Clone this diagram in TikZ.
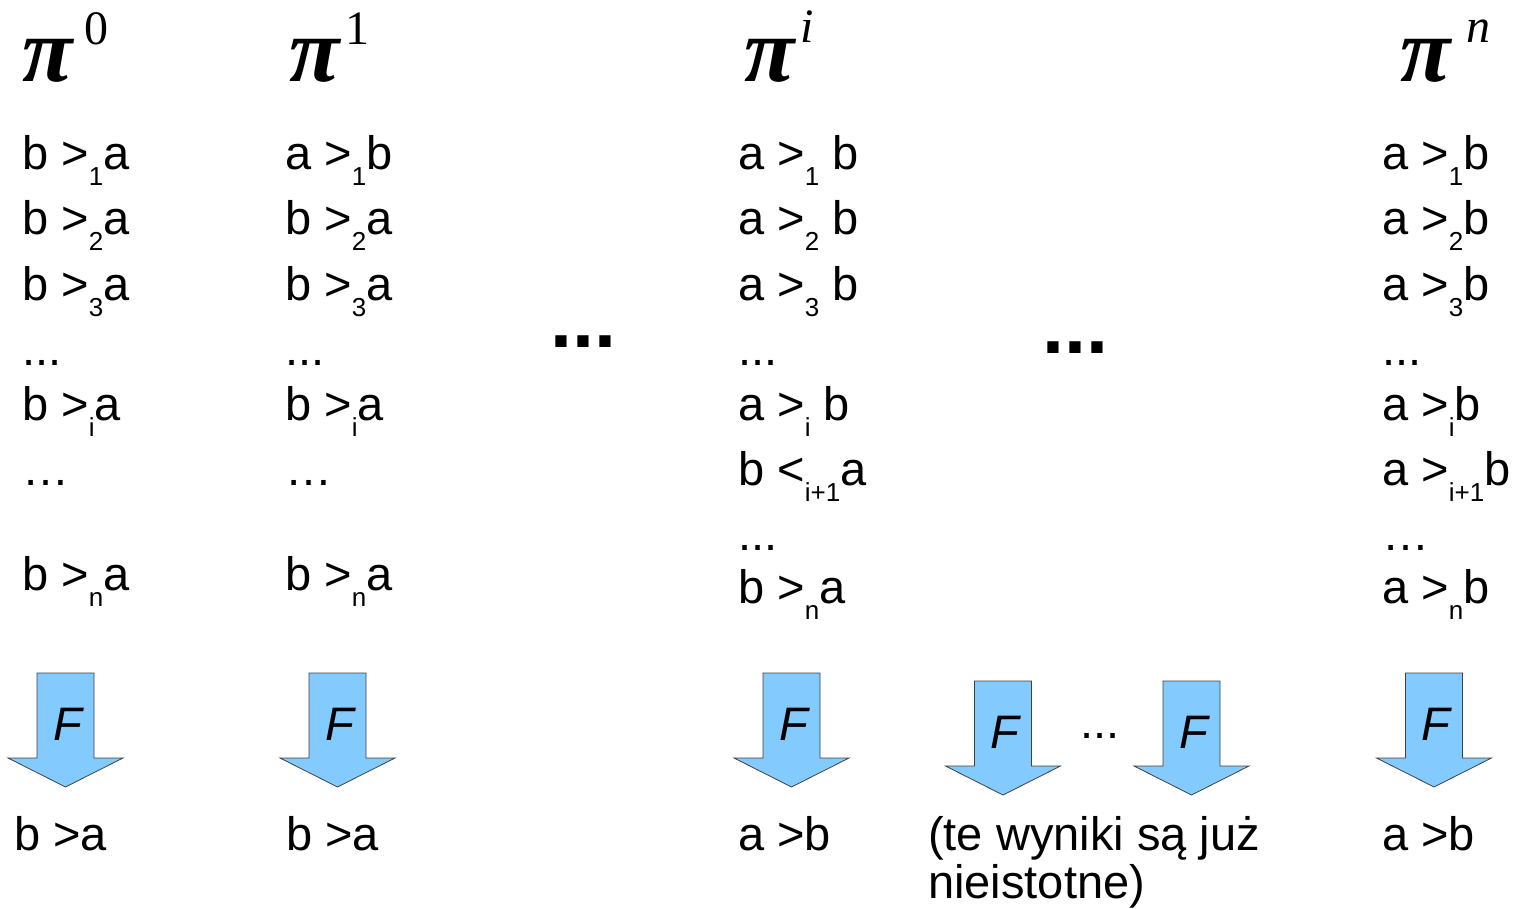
\documentclass[tikz,border=0pt]{standalone}
\usepackage{fontspec}
\setmainfont{Liberation Sans}
\newfontfamily\pifont{Liberation Serif}
\definecolor{arrowblue}{RGB}{131,202,255}
\newcommand\mainsz{\fontsize{47}{50}\selectfont}
\newcommand\lo[1]{\raisebox{-16pt}{\fontsize{26}{26}\selectfont #1}}
\newcommand\Farrow[3]{%
  \draw[farrow] (#2-28.5,#3) -- (#2+28.5,#3) -- (#2+28.5,#3+85) -- (#2+57.5,#3+85)
     -- (#2,#3+114) -- (#2-57.5,#3+85) -- (#2-28.5,#3+85) -- cycle;
  \node[flabel] (#1) at (#2+2,#3+67) {F};}
\begin{document}
\begin{tikzpicture}[x=1pt,y=-1pt,
  txt/.style={anchor=base west, inner sep=0pt, font=\mainsz},
  hdr/.style={anchor=base west, inner sep=0pt, font=\pifont\bfseries\itshape\fontsize{92}{92}\selectfont},
  supr/.style={anchor=base west, inner sep=0pt, font=\pifont\fontsize{48}{48}\selectfont},
  supi/.style={anchor=base west, inner sep=0pt, font=\pifont\itshape\fontsize{48}{48}\selectfont},
  bigdots/.style={anchor=base west, inner sep=0pt, font=\bfseries\fontsize{79}{80}\selectfont},
  flabel/.style={anchor=base, inner sep=0pt, font=\mainsz\itshape},
  farrow/.style={fill=arrowblue, draw=black!75, line width=0.8pt, line join=miter}]
\useasboundingbox (0,0) rectangle (1517,909);

% headers
\node[hdr] (p0) at (22,82) {π};
\node[supr] (s0) at (84,45) {0};
\node[hdr] (p1) at (289,82) {π};
\node[supr] (s1) at (345,45) {1};
\node[hdr] (pi) at (744,82) {π};
\node[supi] (si) at (800,43) {i};
\node[hdr] (pn) at (1400,82) {π};
\node[supi] (sn) at (1466,43) {n};

% column 0
\node[txt] (a1) at (22,170) {b >\lo{1}a};
\node[txt] (a2) at (22,235) {b >\lo{2}a};
\node[txt] (a3) at (22,300) {b >\lo{3}a};
\node[txt] (a4) at (22,365) {...};
\node[txt] (a5) at (22,420) {b >\lo{i}a};
\node[txt] (a6) at (22,485) {…};
\node[txt] (a7) at (22,590) {b >\lo{n}a};

% column 1
\node[txt] (b1) at (285,170) {a >\lo{1}b};
\node[txt] (b2) at (285,235) {b >\lo{2}a};
\node[txt] (b3) at (285,300) {b >\lo{3}a};
\node[txt] (b4) at (285,365) {...};
\node[txt] (b5) at (285,420) {b >\lo{i}a};
\node[txt] (b6) at (285,485) {…};
\node[txt] (b7) at (285,590) {b >\lo{n}a};

% column i
\node[txt] (c1) at (738,170) {a >\lo{1} b};
\node[txt] (c2) at (738,235) {a >\lo{2} b};
\node[txt] (c3) at (738,300) {a >\lo{3} b};
\node[txt] (c4) at (738,365) {...};
\node[txt] (c5) at (738,420) {a >\lo{i} b};
\node[txt] (c6) at (738,485) {b <\lo{i+1}a};
\node[txt] (c7) at (738,550) {...};
\node[txt] (c8) at (738,603) {b >\lo{n}a};

% column n
\node[txt] (d1) at (1382,170) {a >\lo{1}b};
\node[txt] (d2) at (1382,235) {a >\lo{2}b};
\node[txt] (d3) at (1382,300) {a >\lo{3}b};
\node[txt] (d4) at (1382,365) {...};
\node[txt] (d5) at (1382,420) {a >\lo{i}b};
\node[txt] (d6) at (1382,485) {a >\lo{i+1}b};
\node[txt] (d7) at (1382,550) {…};
\node[txt] (d8) at (1382,603) {a >\lo{n}b};

% big dots
\node[bigdots] (g1) at (550,347) {...};
\node[bigdots] (g2) at (1042,353) {...};

% arrows
\Farrow{f0}{65.5}{673}
\Farrow{f1}{337.5}{673}
\Farrow{f2}{791.5}{673}
\Farrow{f3}{1003}{681}
\Farrow{f4}{1191.5}{681}
\Farrow{f5}{1434}{673}
\node[txt] (mid) at (1080,738) {...};

% results
\node[txt] (r0) at (14,850) {b >a};
\node[txt] (r1) at (286,850) {b >a};
\node[txt] (r2) at (738,850) {a >b};
\node[txt] (r3) at (928,850) {(te wyniki są już};
\node[txt] (r3b) at (928,898) {nieistotne)};
\node[txt] (r4) at (1382,850) {a >b};
\end{tikzpicture}
\end{document}
